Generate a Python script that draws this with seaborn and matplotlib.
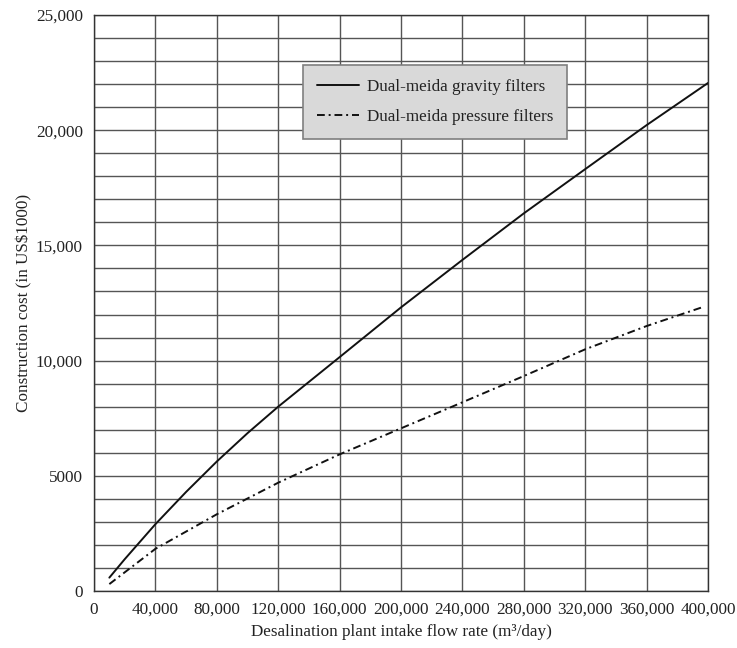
import numpy as np
import pandas as pd
import matplotlib
matplotlib.use("Agg")
import matplotlib.pyplot as plt
from matplotlib.ticker import MultipleLocator, FuncFormatter
import seaborn as sns

# Data
flow_gravity = [10000, 20000, 40000, 60000, 80000, 100000, 120000, 160000, 200000,
                240000, 280000, 320000, 360000, 400000]
cost_gravity = [580, 1380, 2900, 4300, 5620, 6850, 8000, 10150, 12310,
                14370, 16390, 18310, 20220, 22050]

flow_pressure = [10000, 40000, 80000, 120000, 160000, 200000, 240000,
                 280000, 320000, 360000, 396000]
cost_pressure = [300, 1830, 3330, 4700, 5930, 7060, 8190, 9330,
                 10490, 11500, 12310]

label_gravity = "Dual-meida gravity filters"
label_pressure = "Dual-meida pressure filters"

df = pd.concat([
    pd.DataFrame({"flow": flow_gravity, "cost": cost_gravity, "series": label_gravity}),
    pd.DataFrame({"flow": flow_pressure, "cost": cost_pressure, "series": label_pressure}),
], ignore_index=True)

sns.set_style("white")
plt.rcParams["font.family"] = ["Liberation Serif", "DejaVu Serif"]

FS = 12.3

fig = plt.figure(figsize=(7.37, 6.48), dpi=100)
ax = fig.add_axes([94 / 737, 1 - 591 / 648, (708 - 94) / 737, (591 - 15) / 648])

sns.lineplot(data=df, x="flow", y="cost", hue="series", style="series",
             palette={label_gravity: "#111111", label_pressure: "#111111"},
             dashes={label_gravity: "", label_pressure: (4, 2, 1, 2)},
             linewidth=1.4, ax=ax, legend=True, zorder=3)

ax.set_xlim(0, 400000)
ax.set_ylim(0, 25000)

ax.xaxis.set_major_locator(MultipleLocator(40000))
ax.yaxis.set_major_locator(MultipleLocator(5000))
ax.yaxis.set_minor_locator(MultipleLocator(1000))

num_fmt = FuncFormatter(lambda v, p: f"{v:,.0f}" if v >= 10000 else f"{v:.0f}")
ax.xaxis.set_major_formatter(num_fmt)
ax.yaxis.set_major_formatter(num_fmt)

ax.tick_params(axis="both", which="major", direction="out", length=5, width=1,
               color="#222222", labelsize=FS, labelcolor="#222222", pad=3)
ax.tick_params(axis="y", which="minor", length=0)
ax.tick_params(top=False, right=False)

ax.grid(True, which="major", axis="x", color="#555555", linewidth=1.0)
ax.grid(True, which="both", axis="y", color="#555555", linewidth=1.0)
ax.set_axisbelow(True)

for s in ax.spines.values():
    s.set_visible(True)
    s.set_color("#333333")
    s.set_linewidth(1.0)

ax.set_xlabel("Desalination plant intake flow rate (m³/day)", fontsize=FS, color="#222222", labelpad=4)
ax.set_ylabel("Construction cost (in US$1000)", fontsize=FS, color="#222222", labelpad=2.5)

leg = ax.legend(loc="upper left", bbox_to_anchor=((303 - 94) / 614, (591 - 65) / 576),
                borderaxespad=0, frameon=True, fancybox=False, fontsize=FS,
                handlelength=2.45, borderpad=0.8, labelspacing=0.85, handletextpad=0.5)
frame = leg.get_frame()
frame.set_facecolor("#d9d9d9")
frame.set_edgecolor("#7f7f7f")
frame.set_alpha(1)
frame.set_linewidth(1.2)
for t in leg.get_texts():
    t.set_color("#222222")

fig.savefig("out.png", dpi=100)
